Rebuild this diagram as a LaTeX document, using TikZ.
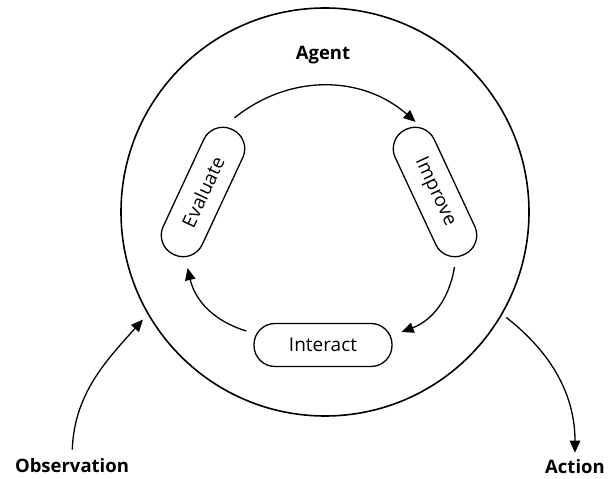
\documentclass[tikz,border=0pt]{standalone}
\usepackage{fontspec}
\setmainfont{Open Sans}
\usetikzlibrary{arrows.meta}
\begin{document}
\begin{tikzpicture}[x=1pt,y=1pt,
  pill/.style={draw, line width=1.3pt, rounded corners=21pt, minimum width=138pt, minimum height=43pt, inner sep=0pt, font=\fontsize{19}{22}\selectfont},
  lbl/.style={font=\bfseries\fontsize{18.5}{21}\selectfont, inner sep=1pt},
  arr/.style={line width=1.3pt, -{Triangle[length=12pt,width=10.5pt]}}]
\useasboundingbox (0,0) rectangle (608,479);
\node[circle, draw, line width=1.6pt, minimum size=408pt, inner sep=0pt] (ag) at (325,267) {};
\node[lbl] (agent) at (323,424) {Agent};
\node[pill, rotate=65] (ev) at (203,287) {Evaluate};
\node[pill, rotate=-65] (im) at (435,287) {Improve};
\node[pill] (in) at (323,134) {Interact};
\node[lbl] (obs) at (72,13) {Observation};
\node[lbl] (act) at (575,12) {Action};
\draw[arr] ([shift={(2,11)}]ev.east) to[bend left=40] ([shift={(10,7)}]im.west);
\draw[arr] ([shift={(-10,-12)}]im.east) to[bend left=30] ([shift={(9,13)}]in.east);
\draw[arr] ([shift={(-7,14)}]in.west) to[bend left=30] ([shift={(14,-13)}]ev.west);
\draw[arr, shorten <=8pt, shorten >=7pt] (obs.north) to[out=88,in=228] (ag.210);
\draw[arr, shorten <=5pt, shorten >=6pt] (ag.330) to[out=-38,in=90] (act.north);
\end{tikzpicture}
\end{document}
